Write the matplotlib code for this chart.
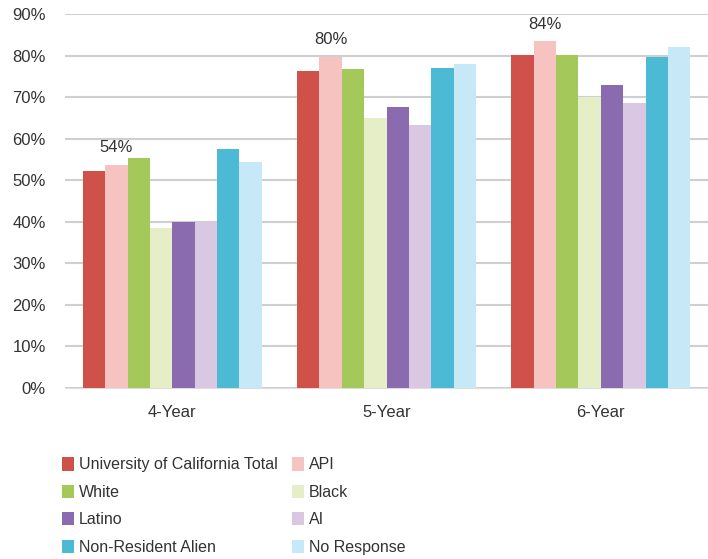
import numpy as np
import matplotlib
matplotlib.use("Agg")
import matplotlib.pyplot as plt
from matplotlib.ticker import PercentFormatter

plt.rcParams["font.family"] = ["Liberation Sans", "DejaVu Sans"]

# === Data ===
periods = ["4-Year", "5-Year", "6-Year"]
groups = ["University of California Total", "API", "White", "Black",
          "Latino", "AI", "Non-Resident Alien", "No Response"]
uc_total = [52.2, 76.3, 80.1]
api = [53.7, 79.7, 83.4]
white = [55.3, 76.7, 80.1]
black = [38.5, 64.9, 70.0]
latino = [40.0, 67.7, 72.9]
ai = [40.0, 63.3, 68.5]
non_resident = [57.5, 76.9, 79.7]
no_response = [54.3, 78.0, 82.0]
api_labels = ["54%", "80%", "84%"]

colors = ["#cf5149", "#f6c3c1", "#a5c85b", "#e5eec7",
          "#8b6bb0", "#dac7e2", "#4cb9d5", "#c7e8f6"]

series = [uc_total, api, white, black, latino, ai, non_resident, no_response]

# === Plot ===
fig = plt.figure(figsize=(7.08, 5.59), dpi=100)
ax = fig.add_axes([0.092, 0.306, 0.908, 0.669])

x = np.arange(len(periods))
n = len(series)
bw = 0.835 / n
handles = []
for i, (vals, col, name) in enumerate(zip(series, colors, groups)):
    b = ax.bar(x - 0.835 / 2 + bw * (i + 0.5), vals, width=bw, color=col,
               label=name, zorder=3)
    handles.append(b)

# labels over the API bars
for j, lab in enumerate(api_labels):
    xa = x[j] - 0.835 / 2 + bw * 1.5
    ax.annotate(lab, (xa, api[j]), xytext=(0, 7), textcoords="offset points",
                ha="center", va="bottom", fontsize=12, color="#333333")

ax.set_xlim(-0.5, 2.5)
ax.set_ylim(0, 90)
ax.set_yticks(np.arange(0, 91, 10))
ax.yaxis.set_major_formatter(PercentFormatter(decimals=0))
ax.set_xticks(x)
ax.set_xticklabels(periods)
ax.tick_params(axis="both", length=0, labelsize=12, colors="#333333")
ax.tick_params(axis="y", pad=14)
ax.tick_params(axis="x", pad=12)
ax.yaxis.grid(True, color="#cfcfcf", linewidth=1.5, zorder=0)
for s in ["top", "right", "left"]:
    ax.spines[s].set_visible(False)
ax.spines["bottom"].set_color("#dddddd")

# legend: two columns, filled row by row like the original
leg_kw = dict(loc="upper left", frameon=False, fontsize=11.5,
              handlelength=0.75, handleheight=0.9, handletextpad=0.3,
              labelspacing=0.77, borderpad=0, borderaxespad=0,
              labelcolor="#333333")
fig.legend(handles[0::2], groups[0::2], bbox_to_anchor=(0.088, 0.182), **leg_kw)
fig.legend(handles[1::2], groups[1::2], bbox_to_anchor=(0.413, 0.182), **leg_kw)

fig.savefig("out.png", dpi=100)
